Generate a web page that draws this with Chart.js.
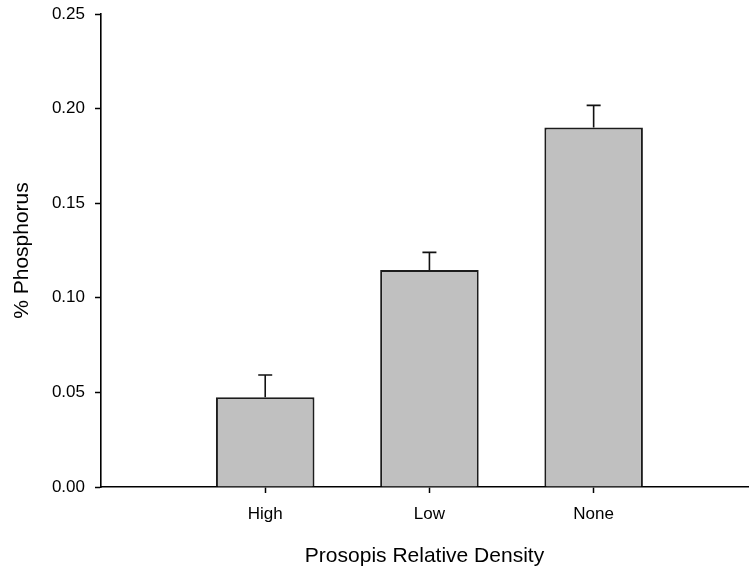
<!DOCTYPE html>
<html>
<head>
<meta charset="utf-8">
<script src="https://cdn.jsdelivr.net/npm/chart.js@4.4.0/dist/chart.umd.min.js"></script>
<style>
    html, body { margin: 0; padding: 0; background: #fff; }
    #wrap { width: 749px; height: 569px; }
</style>
</head>
<body>
<div id="wrap"><canvas id="chart" width="749" height="569"></canvas></div>
<script>
// Data
const categories = ['High', 'Low', 'None'];
const positions = [1, 2, 3];
const phosphorus = [0.0474, 0.1147, 0.1900];
const stdError = [0.0118, 0.0093, 0.0117];
const yTicks = [0, 0.05, 0.10, 0.15, 0.20, 0.25];

const FONT = '"Liberation Sans", Arial, Helvetica, sans-serif';
Chart.defaults.font.family = FONT;
Chart.defaults.color = '#000';

// Upper error bars with a small cap
const errorBars = {
    id: 'errorBars',
    afterDatasetsDraw(chart) {
        const ctx = chart.ctx;
        const xs = chart.scales.x;
        const ys = chart.scales.y;
        ctx.save();
        ctx.strokeStyle = '#111';
        ctx.lineWidth = 1.6;
        positions.forEach((p, i) => {
            const x = xs.getPixelForValue(p);
            const y0 = ys.getPixelForValue(phosphorus[i]);
            const y1 = ys.getPixelForValue(phosphorus[i] + stdError[i]);
            ctx.beginPath();
            ctx.moveTo(x, y0);
            ctx.lineTo(x, y1);
            ctx.moveTo(x - 7, y1);
            ctx.lineTo(x + 7, y1);
            ctx.stroke();
        });
        ctx.restore();
    }
};

new Chart(document.getElementById('chart'), {
    type: 'bar',
    data: {
        datasets: [{
            data: positions.map((p, i) => ({ x: p, y: phosphorus[i] })),
            backgroundColor: '#c0c0c0',
            borderColor: '#1c1c1c',
            borderWidth: 2,
            barPercentage: 0.6,
            categoryPercentage: 1.0
        }]
    },
    options: {
        responsive: false,
        animation: false,
        layout: { padding: { top: 14, right: 1, left: 0, bottom: 0 } },
        plugins: { legend: { display: false }, tooltip: { enabled: false } },
        scales: {
            x: {
                type: 'linear',
                min: 0,
                max: 3.94,
                offset: false,
                afterBuildTicks: (scale) => { scale.ticks = positions.map(v => ({ value: v })); },
                afterFit: (scale) => { scale.height = 82; scale.paddingLeft = 0; scale.paddingRight = 0; },
                ticks: {
                    callback: (v) => categories[positions.indexOf(v)],
                    font: { size: 17 },
                    padding: 11,
                    maxRotation: 0
                },
                grid: { offset: false, drawOnChartArea: false, drawTicks: true, tickLength: 6, tickColor: '#000', tickWidth: 1.5 },
                border: { display: true, color: '#000', width: 1.6 },
                title: {
                    display: true,
                    text: 'Prosopis Relative Density',
                    font: { size: 21 },
                    padding: { top: 0, bottom: 0 }
                }
            },
            y: {
                min: 0,
                max: 0.25,
                afterBuildTicks: (scale) => { scale.ticks = yTicks.map(v => ({ value: v })); },
                afterFit: (scale) => { scale.width = 101; scale.paddingTop = 0; scale.paddingBottom = 0; },
                ticks: {
                    callback: (v) => v.toFixed(2),
                    font: { size: 17 },
                    padding: 10
                },
                grid: { drawOnChartArea: false, drawTicks: true, tickLength: 6, tickColor: '#000', tickWidth: 1.5 },
                border: { display: true, color: '#000', width: 1.6 },
                title: {
                    display: true,
                    text: '% Phosphorus',
                    font: { size: 21 },
                    padding: { top: 10, bottom: 0 }
                }
            }
        }
    },
    plugins: [errorBars]
});
</script>
</body>
</html>
